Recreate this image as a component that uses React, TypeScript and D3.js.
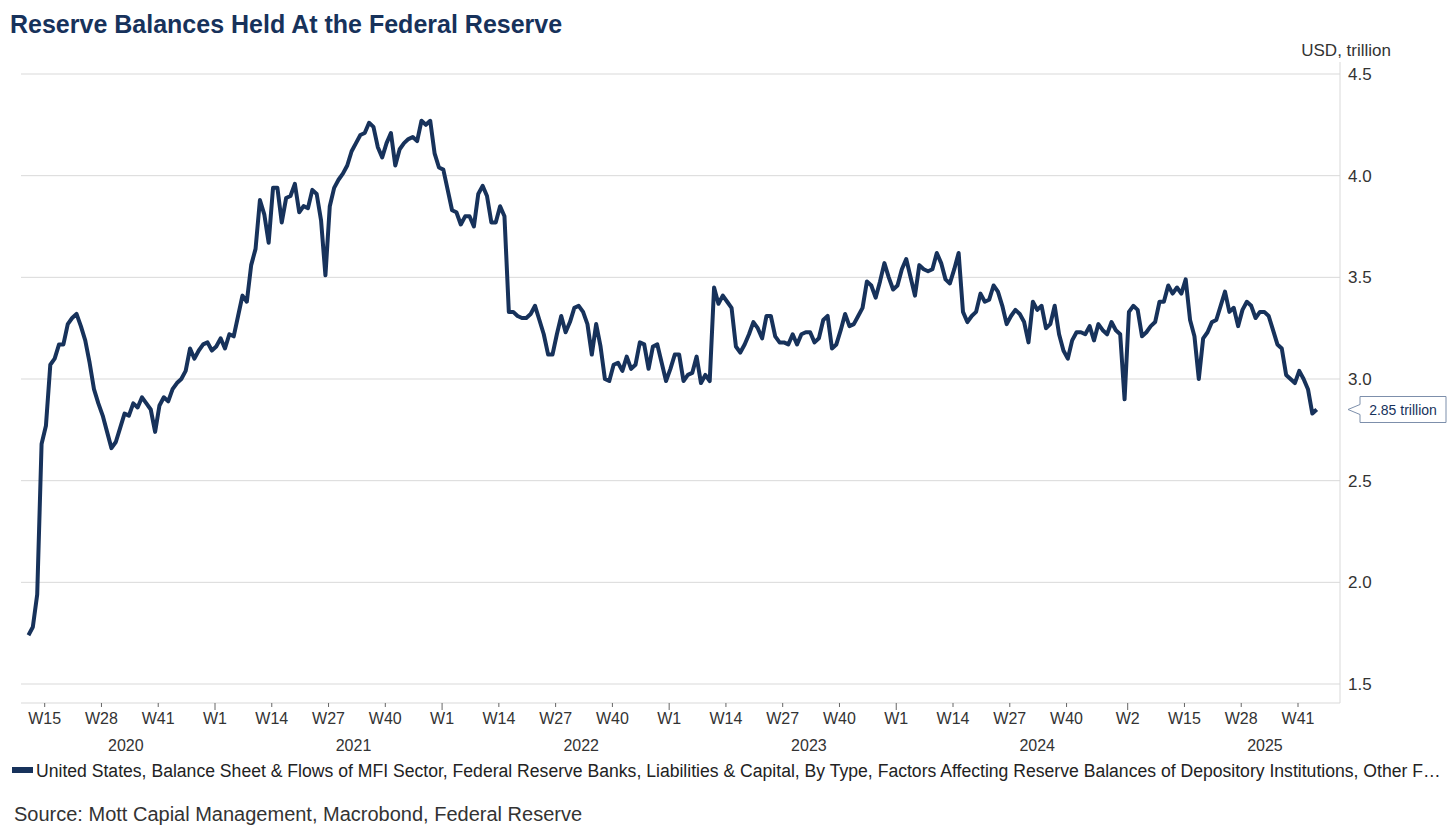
import * as d3 from "d3";

const WIDTH = 1456;
const HEIGHT = 839;
const NAVY = "#17325b";
const FONT = "'Liberation Sans', Arial, sans-serif";

// weekly (Wednesday) levels, USD trillion, first point 2020-03-11
const START = Date.UTC(2020, 2, 11);
const v2020 = [
  1.74, 1.78, 1.94, 2.68, 2.77, 3.07, 3.1, 3.17, 3.17, 3.27, 3.3, 3.32, 3.26, 3.19, 3.08, 2.95,
  2.88, 2.82, 2.74, 2.66, 2.69, 2.76, 2.83, 2.82, 2.88, 2.86, 2.91, 2.88, 2.85, 2.74, 2.87, 2.91,
  2.89, 2.95, 2.98, 3.0, 3.04, 3.15, 3.1, 3.14, 3.17, 3.18, 3.14,
];
const v2021 = [
  3.16, 3.2, 3.15, 3.22, 3.21, 3.31, 3.41, 3.38, 3.56, 3.64, 3.88, 3.81, 3.67, 3.94, 3.94, 3.77,
  3.89, 3.9, 3.96, 3.82, 3.85, 3.84, 3.93, 3.91, 3.78, 3.51, 3.85, 3.94, 3.98, 4.01, 4.05, 4.12,
  4.16, 4.2, 4.21, 4.26, 4.24, 4.14, 4.09, 4.16, 4.21, 4.05, 4.13, 4.16, 4.18, 4.19, 4.17, 4.27,
  4.25, 4.27, 4.11, 4.04,
];
const v2022 = [
  4.03, 3.93, 3.83, 3.82, 3.76, 3.8, 3.8, 3.75, 3.91, 3.95, 3.9, 3.77, 3.77, 3.85, 3.8, 3.33,
  3.33, 3.31, 3.3, 3.3, 3.32, 3.36, 3.29, 3.22, 3.12, 3.12, 3.22, 3.31, 3.23, 3.28, 3.35, 3.36,
  3.33, 3.27, 3.12, 3.27, 3.16, 3.0, 2.99, 3.07, 3.08, 3.04, 3.11, 3.05, 3.07, 3.18, 3.17, 3.05,
  3.16, 3.17, 3.08, 2.99,
];
const v2023 = [
  3.05, 3.12, 3.12, 2.99, 3.02, 3.03, 3.11, 2.98, 3.02, 2.99, 3.45, 3.37, 3.41, 3.38, 3.35, 3.16,
  3.13, 3.17, 3.22, 3.28, 3.25, 3.2, 3.31, 3.31, 3.21, 3.18, 3.18, 3.17, 3.22, 3.17, 3.22, 3.23,
  3.23, 3.18, 3.2, 3.29, 3.31, 3.15, 3.17, 3.24, 3.32, 3.26, 3.27, 3.31, 3.35, 3.48, 3.46, 3.4,
  3.48, 3.57, 3.5, 3.44,
];
const v2024 = [
  3.46, 3.54, 3.59, 3.5, 3.41, 3.56, 3.54, 3.53, 3.54, 3.62, 3.57, 3.49, 3.47, 3.54, 3.62, 3.33,
  3.28, 3.31, 3.33, 3.42, 3.38, 3.39, 3.46, 3.43, 3.36, 3.27, 3.31, 3.34, 3.32, 3.28, 3.18, 3.38,
  3.34, 3.36, 3.25, 3.27, 3.36, 3.22, 3.14, 3.1, 3.19, 3.23, 3.23, 3.22, 3.26, 3.19, 3.27, 3.24,
  3.22, 3.28, 3.24, 3.22,
];
const v2025 = [
  2.9, 3.33, 3.36, 3.34, 3.21, 3.23, 3.26, 3.28, 3.38, 3.38, 3.46, 3.42, 3.45, 3.42, 3.49, 3.29,
  3.21, 3.0, 3.2, 3.23, 3.28, 3.29, 3.36, 3.43, 3.33, 3.35, 3.26, 3.34, 3.38, 3.36, 3.3, 3.33,
  3.33, 3.31, 3.24, 3.17, 3.15, 3.02, 3.0, 2.98, 3.04, 3.0, 2.95, 2.83, 2.85,
];

const yTicks = [1.5, 2.0, 2.5, 3.0, 3.5, 4.0, 4.5];
// ISO [year, week] of x-axis ticks
const xTickWeeks: [number, number][] = [
  [2020, 15], [2020, 28], [2020, 41],
  [2021, 1], [2021, 14], [2021, 27], [2021, 40],
  [2022, 1], [2022, 14], [2022, 27], [2022, 40],
  [2023, 1], [2023, 14], [2023, 27], [2023, 40],
  [2024, 1], [2024, 14], [2024, 27], [2024, 40],
  [2025, 2], [2025, 15], [2025, 28], [2025, 41],
];
const years = [2020, 2021, 2022, 2023, 2024, 2025];

const TITLE = "Reserve Balances Held At the Federal Reserve";
const LEGEND =
  "United States, Balance Sheet & Flows of MFI Sector, Federal Reserve Banks, Liabilities & Capital, By Type, Factors Affecting Reserve Balances of Depository Institutions, Other F\u2026";
const SOURCE = "Source: Mott Capial Management, Macrobond, Federal Reserve";

const isoWeekMonday = (year: number, week: number) => {
  const jan4 = new Date(Date.UTC(year, 0, 4));
  const dow = (jan4.getUTCDay() + 6) % 7;
  return new Date(Date.UTC(year, 0, 4 - dow + (week - 1) * 7));
};

const series = [...v2020, ...v2021, ...v2022, ...v2023, ...v2024, ...v2025].map((v, i) => ({
  date: new Date(START + i * 7 * 86400000),
  value: v,
}));

const PLOT = { left: 21, right: 1340, top: 62, bottom: 703 };

export default function App() {
  const x = d3
    .scaleUtc()
    .domain([isoWeekMonday(2021, 1), isoWeekMonday(2025, 41)])
    .range([215, 1298]);
  const y = d3.scaleLinear().domain([1.5, 4.5]).range([684, 74]);

  const line = d3
    .line<{ date: Date; value: number }>()
    .x((d) => x(d.date))
    .y((d) => y(d.value));

  const last = series[series.length - 1];
  const ly = y(last.value);
  const tip = PLOT.right + 8;

  return (
    <svg
      width={WIDTH}
      height={HEIGHT}
      style={{ position: "absolute", left: 0, top: 0, background: "#fff" }}
      fontFamily={FONT}
    >
      <text x={10} y={33} fontSize={25} fontWeight="bold" fill={NAVY}>
        {TITLE}
      </text>

      {/* grid */}
      {yTicks.map((t) => (
        <g key={t}>
          <line x1={PLOT.left} x2={PLOT.right} y1={y(t)} y2={y(t)} stroke="#d9d9d9" strokeWidth={1} />
          <text x={PLOT.right + 8} y={y(t) + 6} fontSize={17} fill="#333">
            {t.toFixed(1)}
          </text>
        </g>
      ))}
      <text x={1391} y={56} fontSize={17} fill="#333" textAnchor="end">
        USD, trillion
      </text>

      {/* right axis and bottom axis */}
      <line x1={PLOT.right} x2={PLOT.right} y1={PLOT.top} y2={PLOT.bottom} stroke="#d9d9d9" />
      <line x1={PLOT.left} x2={PLOT.right} y1={PLOT.bottom} y2={PLOT.bottom} stroke="#d9d9d9" />

      {xTickWeeks.map(([yr, wk]) => {
        const tx = x(isoWeekMonday(yr, wk));
        return (
          <g key={`${yr}-${wk}`}>
            <line x1={tx} x2={tx} y1={PLOT.bottom} y2={PLOT.bottom + (wk <= 2 ? 7 : 4)} stroke="#666" />
            <text x={tx} y={724} fontSize={16} fill="#333" textAnchor="middle">
              {`W${wk}`}
            </text>
          </g>
        );
      })}
      {years.map((yr) => (
        <text
          key={yr}
          x={x(new Date(Date.UTC(yr, 7, 14)))}
          y={751}
          fontSize={16}
          fill="#333"
          textAnchor="middle"
        >
          {yr}
        </text>
      ))}

      <path
        d={line(series) ?? ""}
        fill="none"
        stroke={NAVY}
        strokeWidth={4}
        strokeLinejoin="round"
        strokeLinecap="butt"
      />

      {/* last value callout */}
      <g>
        <path
          d={`M${tip + 12},${ly - 13} L${1446},${ly - 13} L${1446},${ly + 13} L${tip + 12},${ly + 13} L${tip + 12},${ly + 5} L${tip},${ly} L${tip + 12},${ly - 5} Z`}
          fill="#fff"
          stroke="#7d8fab"
          strokeWidth={1}
        />
        <text x={(tip + 12 + 1446) / 2} y={ly + 5} fontSize={14} fill={NAVY} textAnchor="middle">
          {`${last.value.toFixed(2)} trillion`}
        </text>
      </g>

      {/* legend */}
      <rect x={12} y={767} width={21} height={6} fill={NAVY} />
      <text x={36} y={777} fontSize={17.6} fill="#222">
        {LEGEND}
      </text>

      <text x={14} y={821} fontSize={20} fill="#333">
        {SOURCE}
      </text>
    </svg>
  );
}
